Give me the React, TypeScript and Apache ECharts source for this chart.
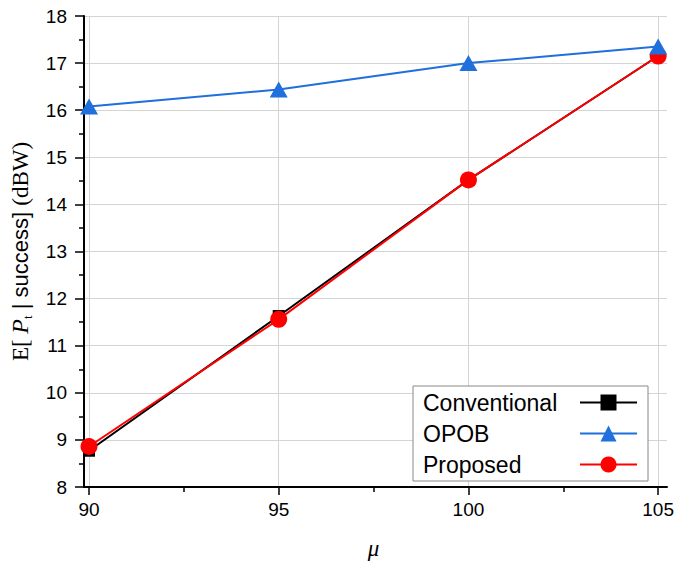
import React, { useEffect, useRef } from "react";
import * as echarts from "echarts";

const muValues = [90, 95, 100, 105];
const conventional = [8.77, 11.63, 14.52, 17.15];
const opob = [16.08, 16.44, 17.0, 17.35];
const proposed = [8.86, 11.56, 14.52, 17.15];
const xTicks = { min: 90, max: 105, interval: 5 };
const yTicks = { min: 8, max: 18, interval: 1 };

const SANS = "'Liberation Sans', Arial, Helvetica, sans-serif";
const SERIF = "'Liberation Serif', 'Times New Roman', serif";

export default function App() {
  const ref = useRef<HTMLDivElement>(null);
  useEffect(() => {
    if (!ref.current) return;
    const chart = echarts.init(ref.current, null, { renderer: "svg" });
    const pairs = (ys: number[]) => muValues.map((x, i) => [x, ys[i]]);
    chart.setOption({
      animation: false,
      backgroundColor: "#ffffff",
      grid: [
        { left: 89, right: 18, top: 16, bottom: 81 },
        { left: 82, right: 10, top: 16, bottom: 81 },
      ],
      xAxis: [
        {
          type: "value",
          gridIndex: 0,
          min: xTicks.min,
          max: xTicks.max,
          interval: xTicks.interval,
          axisLine: { show: false },
          axisTick: { show: true, inside: false, length: 8, lineStyle: { color: "#000", width: 1.5 } },
          minorTick: { show: true, splitNumber: 2, length: 5, lineStyle: { color: "#000", width: 1.5 } },
          axisLabel: { color: "#000", fontSize: 19, fontFamily: SANS, margin: 13 },
          splitLine: { show: true, lineStyle: { color: "#d4d4d4", width: 1 } },
          name: "μ",
          nameLocation: "middle",
          nameGap: 50,
          nameTextStyle: { fontFamily: SERIF, fontStyle: "italic", fontSize: 23, color: "#000" },
        },
        {
          type: "value",
          gridIndex: 1,
          min: 89.8,
          max: 105.2,
          axisLine: { show: true, onZero: false, lineStyle: { color: "#000", width: 2 } },
          axisTick: { show: false },
          axisLabel: { show: false },
          splitLine: { show: false },
        },
      ],
      yAxis: [
        {
          type: "value",
          gridIndex: 0,
          min: yTicks.min,
          max: yTicks.max,
          interval: yTicks.interval,
          show: false,
        },
        {
          type: "value",
          gridIndex: 1,
          min: yTicks.min,
          max: yTicks.max,
          interval: yTicks.interval,
          axisLine: { show: true, onZero: false, lineStyle: { color: "#000", width: 2 } },
          axisTick: { show: true, inside: false, length: 9, lineStyle: { color: "#000", width: 1.5 } },
          minorTick: { show: true, splitNumber: 2, length: 5, lineStyle: { color: "#000", width: 1.5 } },
          axisLabel: { color: "#000", fontSize: 19, fontFamily: SANS, margin: 17 },
          splitLine: { show: true, lineStyle: { color: "#d4d4d4", width: 1 } },
          name: "{e|E[ }{i|P}{t|t}{s| | success] }{e|(dBW)}",
          nameLocation: "middle",
          nameGap: 50,
          nameTextStyle: {
            color: "#000",
            rich: {
              e: { fontFamily: SERIF, fontSize: 23, color: "#000", lineHeight: 28 },
              i: { fontFamily: SERIF, fontStyle: "italic", fontSize: 24, color: "#000", lineHeight: 28 },
              t: { fontFamily: SERIF, fontSize: 13, color: "#000", verticalAlign: "bottom", lineHeight: 12 },
              s: { fontFamily: SANS, fontSize: 22, color: "#000", lineHeight: 28 },
            },
          },
        },
      ],
      legend: {
        orient: "vertical",
        left: 413,
        top: 386,
        align: "right",
        data: ["Conventional", "OPOB", "Proposed"],
        itemWidth: 57,
        itemHeight: 20,
        itemGap: 8,
        padding: [5, 10, 5, 10],
        borderColor: "#888",
        borderWidth: 1,
        backgroundColor: "#fff",
        formatter: "{a|{name}}",
        textStyle: {
          fontFamily: SANS,
          fontSize: 23,
          color: "#000",
          lineHeight: 23,
          rich: {
            a: { fontFamily: SANS, fontSize: 23, color: "#000", width: 152, align: "left", lineHeight: 23 },
          },
        },
      },
      series: [
        {
          name: "Conventional",
          type: "line",
          xAxisIndex: 0,
          yAxisIndex: 0,
          data: pairs(conventional),
          symbol: "rect",
          symbolSize: 12,
          lineStyle: { color: "#000", width: 2 },
          itemStyle: { color: "#000" },
          z: 2,
        },
        {
          name: "Proposed",
          type: "line",
          xAxisIndex: 0,
          yAxisIndex: 0,
          data: pairs(proposed),
          symbol: "circle",
          symbolSize: 17,
          lineStyle: { color: "#ff0000", width: 2 },
          itemStyle: { color: "#ff0000" },
          z: 3,
        },
        {
          name: "OPOB",
          type: "line",
          xAxisIndex: 0,
          yAxisIndex: 0,
          data: pairs(opob),
          symbol: "triangle",
          symbolSize: [18, 16],
          lineStyle: { color: "#1f6fdc", width: 2 },
          itemStyle: { color: "#1f6fdc" },
          z: 4,
        },
      ],
    });
    return () => chart.dispose();
  }, []);
  return (
    <div
      ref={ref}
      style={{ position: "absolute", left: 0, top: 0, width: 677, height: 568 }}
    />
  );
}
